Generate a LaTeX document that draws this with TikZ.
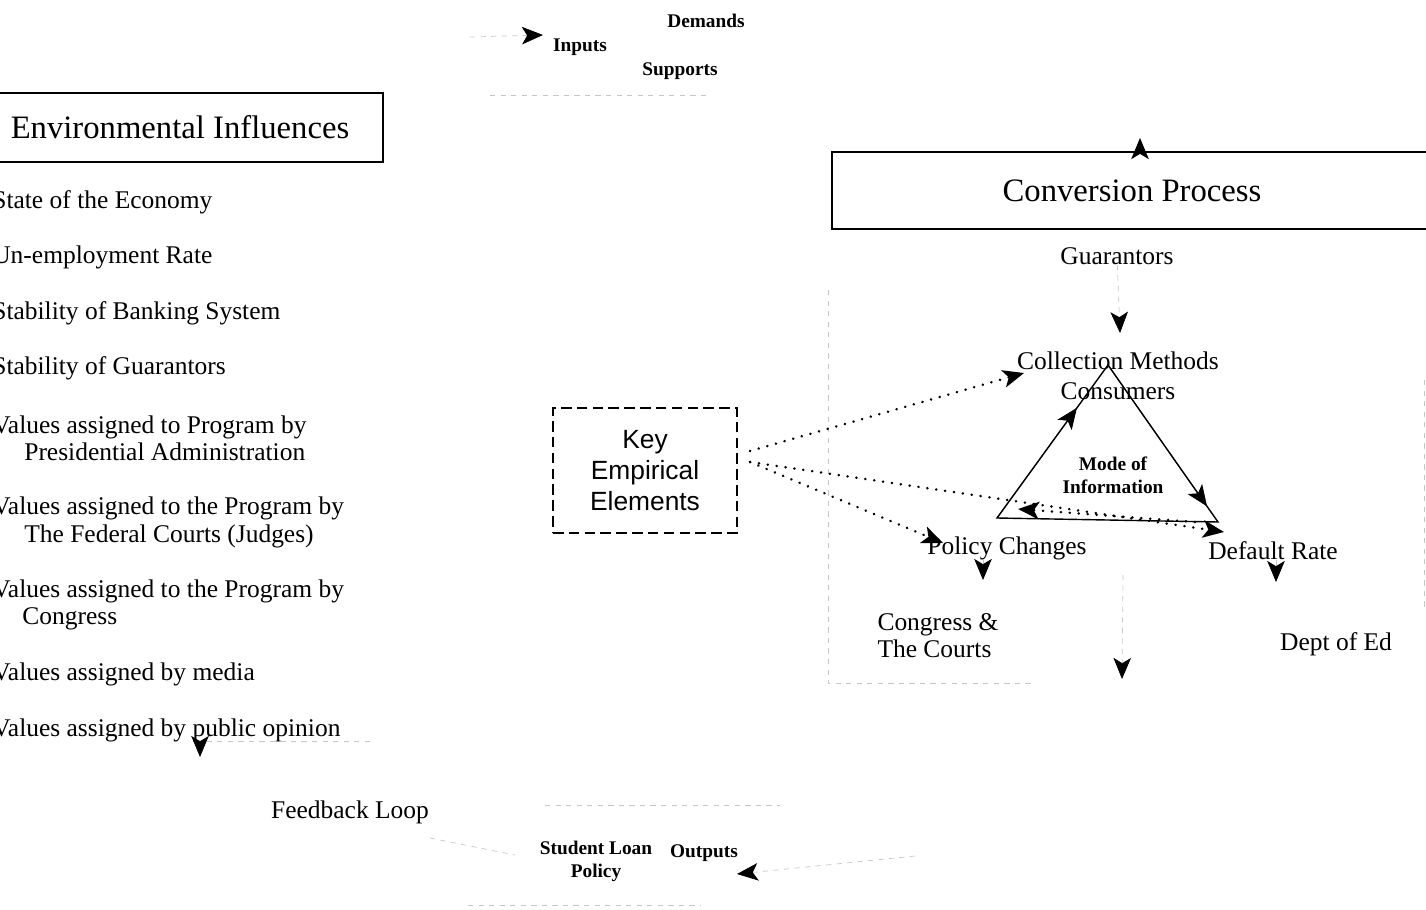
\documentclass[tikz,border=0pt]{standalone}
\usepackage{fontspec}
\setmainfont{Liberation Serif}
\newfontfamily\keyfont{Liberation Sans}
\usetikzlibrary{arrows.meta,calc}
\begin{document}
\begin{tikzpicture}[x=0.02cm,y=-0.02cm,
  txt/.style={font=\fontsize{14.5}{15.5}\selectfont, inner sep=0pt, align=left},
  lbl/.style={font=\fontsize{11}{13}\selectfont\bfseries, inner sep=0pt, align=center},
  big/.style={draw, line width=1.1pt, font=\fontsize{18.6}{20}\selectfont},
  faint/.style={gray!45, dashed, thin},
  tip/.style={-{Stealth[length=12pt,width=10pt,inset=3pt,black]}},
  dots/.style={line width=1.5pt, dash pattern=on 0.1pt off 5pt, line cap=round}]
  \useasboundingbox (0,0) rectangle (1426,909);
  % environment
  \node[big, minimum width=8.12cm, minimum height=1.38cm] (env) at (180,127.5) {Environmental Influences};
  \node[txt, anchor=west] (e1) at (-8,202) {State of the Economy};
  \node[txt, anchor=west] (e2) at (-8,257) {Un-employment Rate};
  \node[txt, anchor=west] (e3) at (-8,313) {Stability of Banking System};
  \node[txt, anchor=west] (e4) at (-8,368) {Stability of Guarantors};
  \node[txt, anchor=west] (e5) at (-8,438.5) {Values assigned to Program by\\\hspace*{0.64cm}Presidential Administration};
  \node[txt, anchor=west] (e6) at (-8,522.5) {Values assigned to the Program by\\\hspace*{0.64cm}The Federal Courts (Judges)};
  \node[txt, anchor=west] (e7) at (-8,605) {Values assigned to the Program by\\\hspace*{0.6cm}Congress};
  \node[txt, anchor=west] (e8) at (-8,674) {Values assigned by media};
  \node[txt, anchor=west] (e9) at (-8,730) {Values assigned by public opinion};
  % inputs
  \node[lbl] (dem) at (706,21) {Demands};
  \node[lbl] (inp) at (580,47) {Inputs};
  \node[lbl] (sup) at (680,71) {Supports};
  \coordinate (inl) at (470,37);
  \coordinate (inr) at (543,35);
  \draw[faint, tip] (inl) -- (inr);
  \draw[faint] (490,95) -- (710,95);
  % conversion
  \node[big, minimum width=12cm, minimum height=1.54cm] (conv) at (1132,190.5) {Conversion Process};
  \coordinate (cvt) at ($(conv.north)+(8,-13)$);
  \draw[faint, tip] ($(conv.north)+(8,0)$) -- (cvt);
  \node[txt] (guar) at (1117,256) {Guarantors};
  \coordinate (gt) at (1120,333);
  \draw[faint, tip] (guar) -- (gt);
  \node[txt] (coll) at (1118,361) {Collection Methods};
  \node[txt] (cons) at (1118,391) {Consumers};
  \draw[thick] (1108,365) coordinate (ap) -- (1218,522) coordinate (br) -- (997,518) coordinate (bl) -- cycle;
  \draw[tip] (bl) -- ($(bl)!0.72!(ap)$);
  \draw[tip] (ap) -- ($(ap)!0.9!(br)$);
  \node[lbl] (mode) at (1113,475) {Mode of\\Information};
  \node[txt] (pol) at (1007,548) {Policy Changes};
  \node[txt] (def) at (1273,551) {Default Rate};
  \node[txt] (cong) at (938,636) {Congress \&\\The Courts};
  \node[txt] (dept) at (1336,644) {Dept of Ed};
  \coordinate (pt) at (983,580);
  \coordinate (dt) at (1276,582);
  \draw[faint, tip] (pol.south -| pt) -- (pt);
  \draw[faint, tip] (def.south -| dt) -- (dt);
  \coordinate (vt) at (1122,679);
  \draw[faint, tip] (1123,575) -- (vt);
  \draw[faint] (828,290) -- (828,683) -- (1035,683);
  \draw[faint] (1424,380) -- (1424,610);
  % key elements
  \node[draw, thick, dash pattern=on 6pt off 3pt, minimum width=3.68cm, minimum height=2.5cm, font=\keyfont\fontsize{15}{17.5}\selectfont, align=center] (key) at (645,470.5) {Key\\Empirical\\Elements};
  \coordinate (k1) at (750,451);
  \coordinate (k2) at (750,462);
  \coordinate (ct) at (1024,373);
  \coordinate (ptt) at (943,543);
  \coordinate (dft) at (1224,532);
  \coordinate (bt) at (1018,509);
  \path[dots, tip] (k1) edge (ct)
    (k2) edge (ptt)
    (k2) edge (dft)
    (1195,522) edge (bt);
  % outputs and feedback
  \node[lbl] (out) at (704,853) {Outputs};
  \node[lbl] (slp) at (596,861) {Student Loan\\Policy};
  \node[txt] (fb) at (350,812) {Feedback Loop};
  \coordinate (ot) at (737,874);
  \draw[faint, tip] (915,856) -- (ot);
  \coordinate (ft) at (200,757);
  \draw[faint, tip] (370,741) -| (ft);
  \draw[faint] (545,805) -- (780,805);
  \draw[faint] (430,838) -- (515,855);
  \draw[faint] (468,905) -- (700,905);
\end{tikzpicture}
\end{document}
